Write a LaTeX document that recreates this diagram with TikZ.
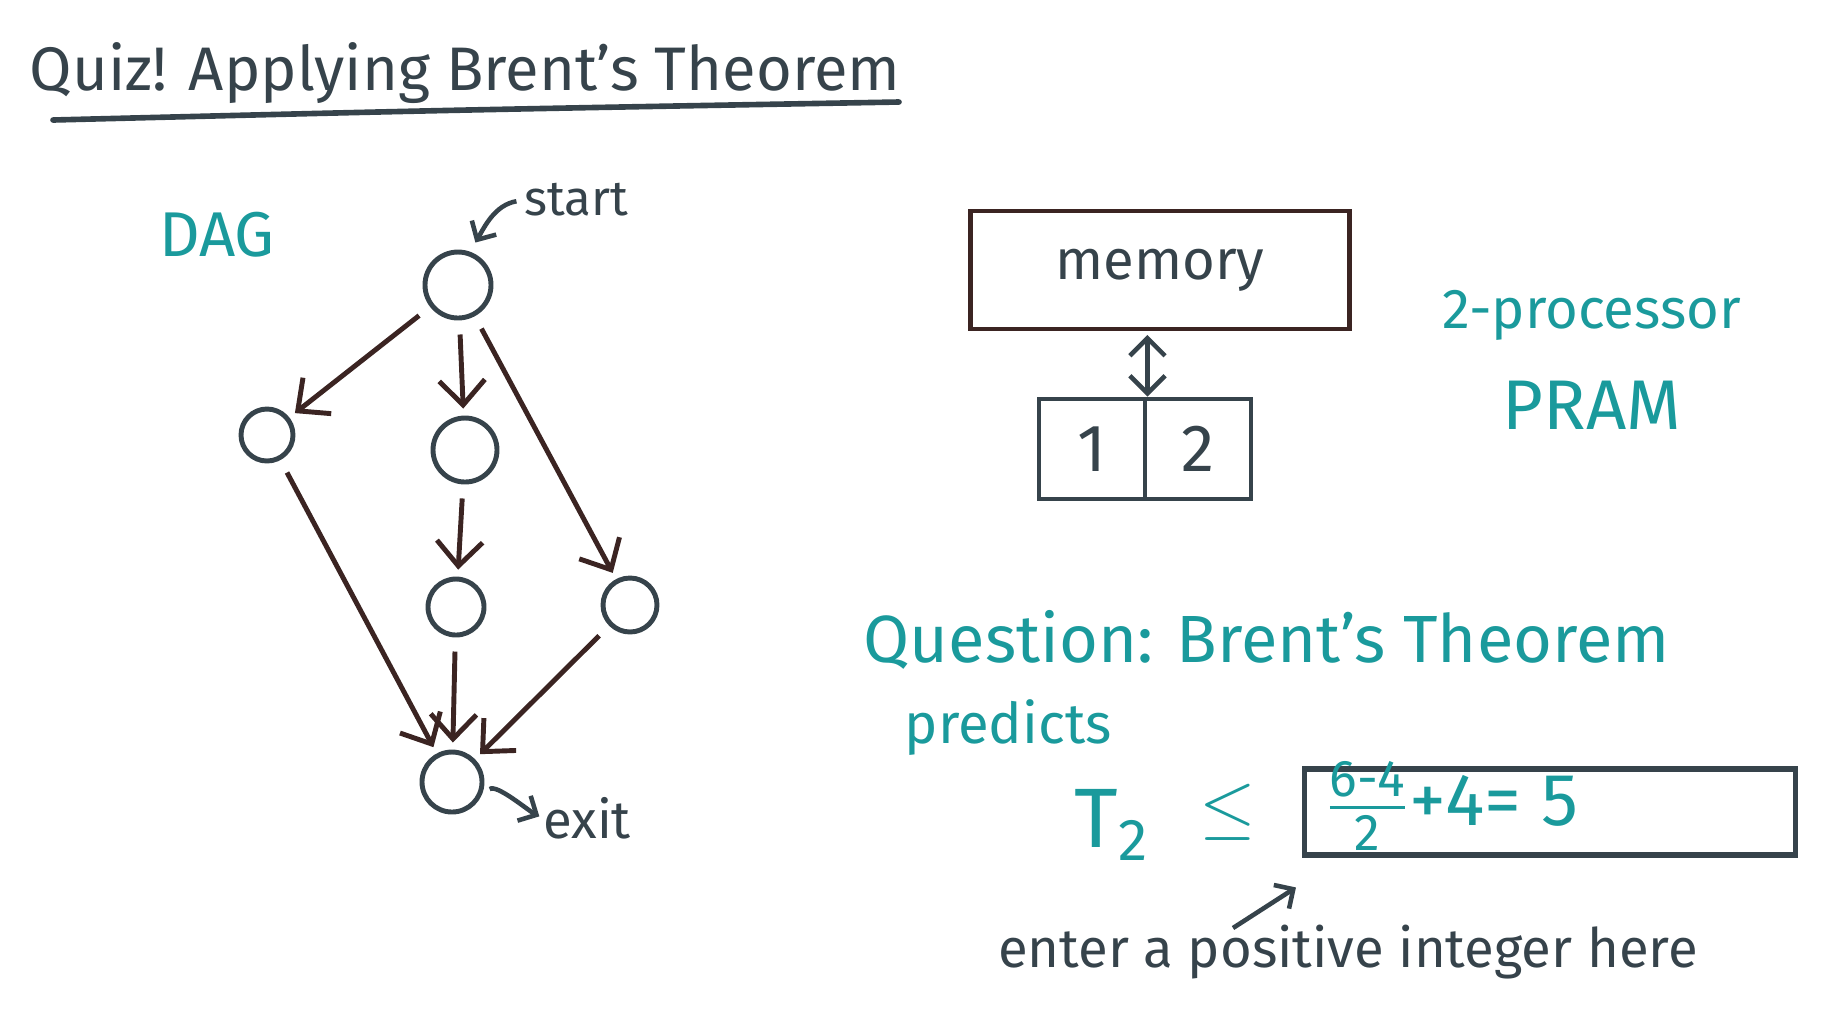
\documentclass[tikz,border=0pt]{standalone}
\usepackage{fontspec}
\setmainfont{Fira Sans}
\usepackage{amsmath}
\definecolor{ink}{HTML}{36434B}
\definecolor{umber}{HTML}{3B2422}
\definecolor{quizteal}{HTML}{1A9A9C}
\usetikzlibrary{arrows.meta,positioning}

\tikzset{
  dagnode/.style={circle,draw=ink,line width=1.4pt,inner sep=0pt},
  dagedge/.style={umber,line width=1.4pt,-{Straight Barb[length=7pt,width=13pt]},shorten <=4pt,shorten >=2pt},
  pointer/.style={ink,line width=1.3pt,-{Straight Barb[length=4pt,width=8pt]}},
  hand/.style={text=ink,inner sep=0pt},
  tealhand/.style={text=quizteal,inner sep=0pt},
  cell/.style={draw=ink,line width=1.4pt,minimum width=1.06cm,minimum height=1cm,inner sep=0pt,text=ink,font=\fontsize{19}{22}\selectfont}
}

\begin{document}
\begin{tikzpicture}
  \useasboundingbox (0,0) rectangle (18.42,-10.21);
  % title
  \node[hand,anchor=base west,font=\fontsize{17.5}{21}\selectfont] (title) at (0.29,-0.90) {Quiz! Applying Brent's Theorem};
  \draw[ink,line width=1.6pt,line cap=round] (0.53,-1.20) .. controls (4.5,-1.10) .. (8.99,-1.02);
  % DAG
  \node[tealhand,font=\fontsize{18}{22}\selectfont] (dag) at (2.17,-2.35) {DAG};
  \node[dagnode,minimum size=0.66cm] (s) at (4.58,-2.85) {};
  \node[dagnode,minimum size=0.52cm] (l) at (2.67,-4.35) {};
  \node[dagnode,minimum size=0.64cm] (m1) at (4.65,-4.50) {};
  \node[dagnode,minimum size=0.56cm] (m2) at (4.56,-6.07) {};
  \node[dagnode,minimum size=0.54cm] (r) at (6.30,-6.05) {};
  \node[dagnode,minimum size=0.60cm] (e) at (4.52,-7.82) {};
  \draw[dagedge] (s) -- (l);
  \draw[dagedge] (s) -- (m1);
  \draw[dagedge] (s) -- (r);
  \draw[dagedge] (l) -- (e);
  \draw[dagedge] (m1) -- (m2);
  \draw[dagedge] (m2) -- (e);
  \draw[dagedge] (r) -- (e);
  % start / exit labels
  \node[hand,font=\fontsize{14}{17}\selectfont] (slbl) at (5.76,-2.00) {start};
  \draw[pointer,shorten <=2pt,shorten >=3pt] (slbl.west) to[out=190,in=60] (s.70);
  \node[hand,font=\fontsize{15}{18}\selectfont] (elbl) at (5.87,-8.18) {exit};
  \draw[pointer,shorten <=3pt,shorten >=1pt] (e.-25) .. controls +(0.15,0.12) and +(-0.15,0.08) .. (elbl.west);
  % PRAM
  \node[draw=umber,line width=1.4pt,minimum width=3.79cm,minimum height=1.18cm,text=ink,font=\fontsize{16}{19}\selectfont] (mem) at (11.60,-2.70) {memory};
  \node[cell] (p1) at (10.92,-4.49) {1};
  \node[cell,right=-1.4pt of p1] (p2) {2};
  \draw[ink,line width=1.3pt,{Straight Barb[length=5pt,width=10pt]}-{Straight Barb[length=5pt,width=10pt]},shorten <=1pt] (mem.south -| p1.north east) -- (p1.north east);
  \node[tealhand,font=\fontsize{16}{19}\selectfont] (proc) at (15.92,-3.15) {2-processor};
  \node[tealhand,font=\fontsize{20}{24}\selectfont] (pram) at (15.92,-4.05) {PRAM};
  % question
  \node[tealhand,anchor=west,font=\fontsize{19}{23}\selectfont] (quest) at (8.63,-6.40) {Question: Brent's Theorem};
  \node[tealhand,anchor=west,font=\fontsize{16}{19}\selectfont] (pred) at (9.04,-7.28) {predicts};
  \node[tealhand,font=\fontsize{24}{28}\selectfont] (t2) at (11.12,-8.25) {T$_{\text{2}}$};
  \node[tealhand,font=\fontsize{22}{26}\selectfont] (leq) at (12.28,-8.12) {$\leq$};
  \node[draw=ink,line width=1.5pt,minimum width=4.91cm,minimum height=0.86cm] (ans) at (15.50,-8.12) {};
  \node[tealhand,anchor=west,font=\fontsize{21}{24}\selectfont] (anstext) at (13.25,-8.06) {$\frac{\text{6-4}}{\text{2}}$+4= 5};
  \node[hand,font=\fontsize{15.5}{18}\selectfont] (enter) at (13.48,-9.52) {enter a positive integer here};
  \coordinate (tail) at (12.33,-9.28);
  \draw[pointer,shorten >=2pt] (tail) -- ([yshift=-0.26cm]ans.south west);
\end{tikzpicture}
\end{document}
